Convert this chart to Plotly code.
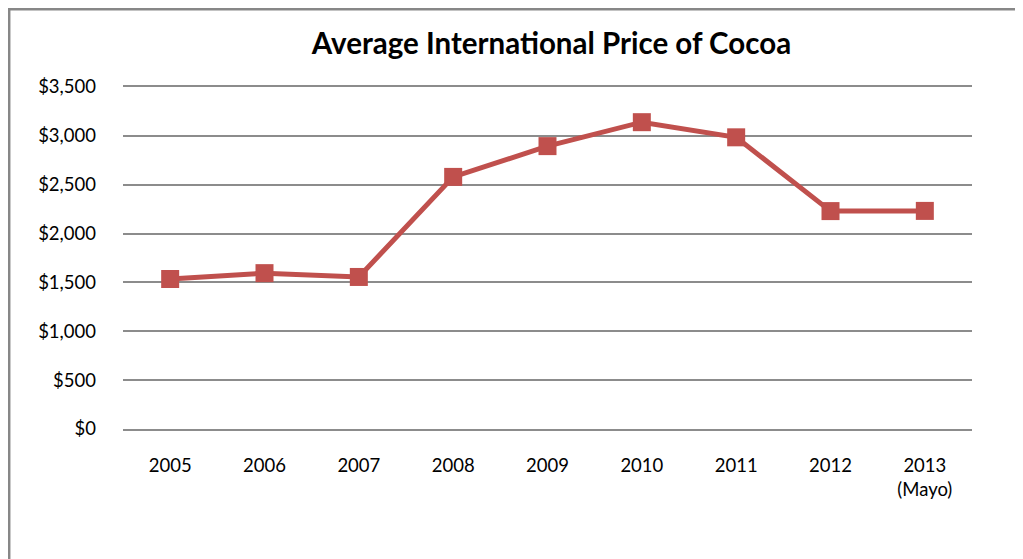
import plotly.graph_objects as go

categories = ["2005", "2006", "2007", "2008", "2009", "2010", "2011", "2012", "2013<br>(Mayo)"]
prices = [1535, 1595, 1556, 2580, 2895, 3140, 2985, 2230, 2232]
y_ticks = [0, 500, 1000, 1500, 2000, 2500, 3000, 3500]
y_labels = ["$0", "$500", "$1,000", "$1,500", "$2,000", "$2,500", "$3,000", "$3,500"]

# the page body adds an 8px offset, so the figure is sized to the remaining window
W, H = 1015, 551
L, R, T, B = 115, 51, 79, 130
pw, ph = W - L - R, H - T - B

fig = go.Figure()
fig.add_trace(go.Scatter(
    x=categories, y=prices, mode="lines+markers",
    line=dict(color="#C0504D", width=5),
    marker=dict(symbol="square", size=18, color="#C0504D"),
    hoverinfo="x+y",
))

fig.add_shape(type="rect", xref="paper", yref="paper",
              x0=(1.2 - L) / pw, x1=1.2, y0=-0.5, y1=1 + (T - 1.2) / ph,
              line=dict(color="#878787", width=2.5), layer="below")

fig.update_layout(
    width=W, height=H,
    margin=dict(l=L, r=R, t=T, b=B),
    paper_bgcolor="white", plot_bgcolor="white",
    showlegend=False,
    font=dict(family="Lato, Carlito, sans-serif", size=18.5, color="black"),
    title=dict(text="<b>Average International Price of Cocoa</b>",
               x=(L + pw / 2 + 4) / W, xanchor="center", y=1 - 36 / H, yanchor="middle",
               font=dict(size=29.5, family="Lato, sans-serif", color="black")),
    xaxis=dict(type="category", range=[-0.5, len(categories) - 0.5],
               showgrid=False, zeroline=False,
               showline=True, mirror=True, linecolor="#8C8C8C", linewidth=2,
               ticks="", tickfont=dict(size=18.5), ticklabelstandoff=19),
    yaxis=dict(range=[0, 3500], tickvals=y_ticks, ticktext=y_labels,
               showgrid=True, gridcolor="#8C8C8C", gridwidth=2,
               zeroline=False, showline=False, ticks="",
               tickfont=dict(size=18.5), ticklabelstandoff=26),
)

fig.write_html("out.html")
